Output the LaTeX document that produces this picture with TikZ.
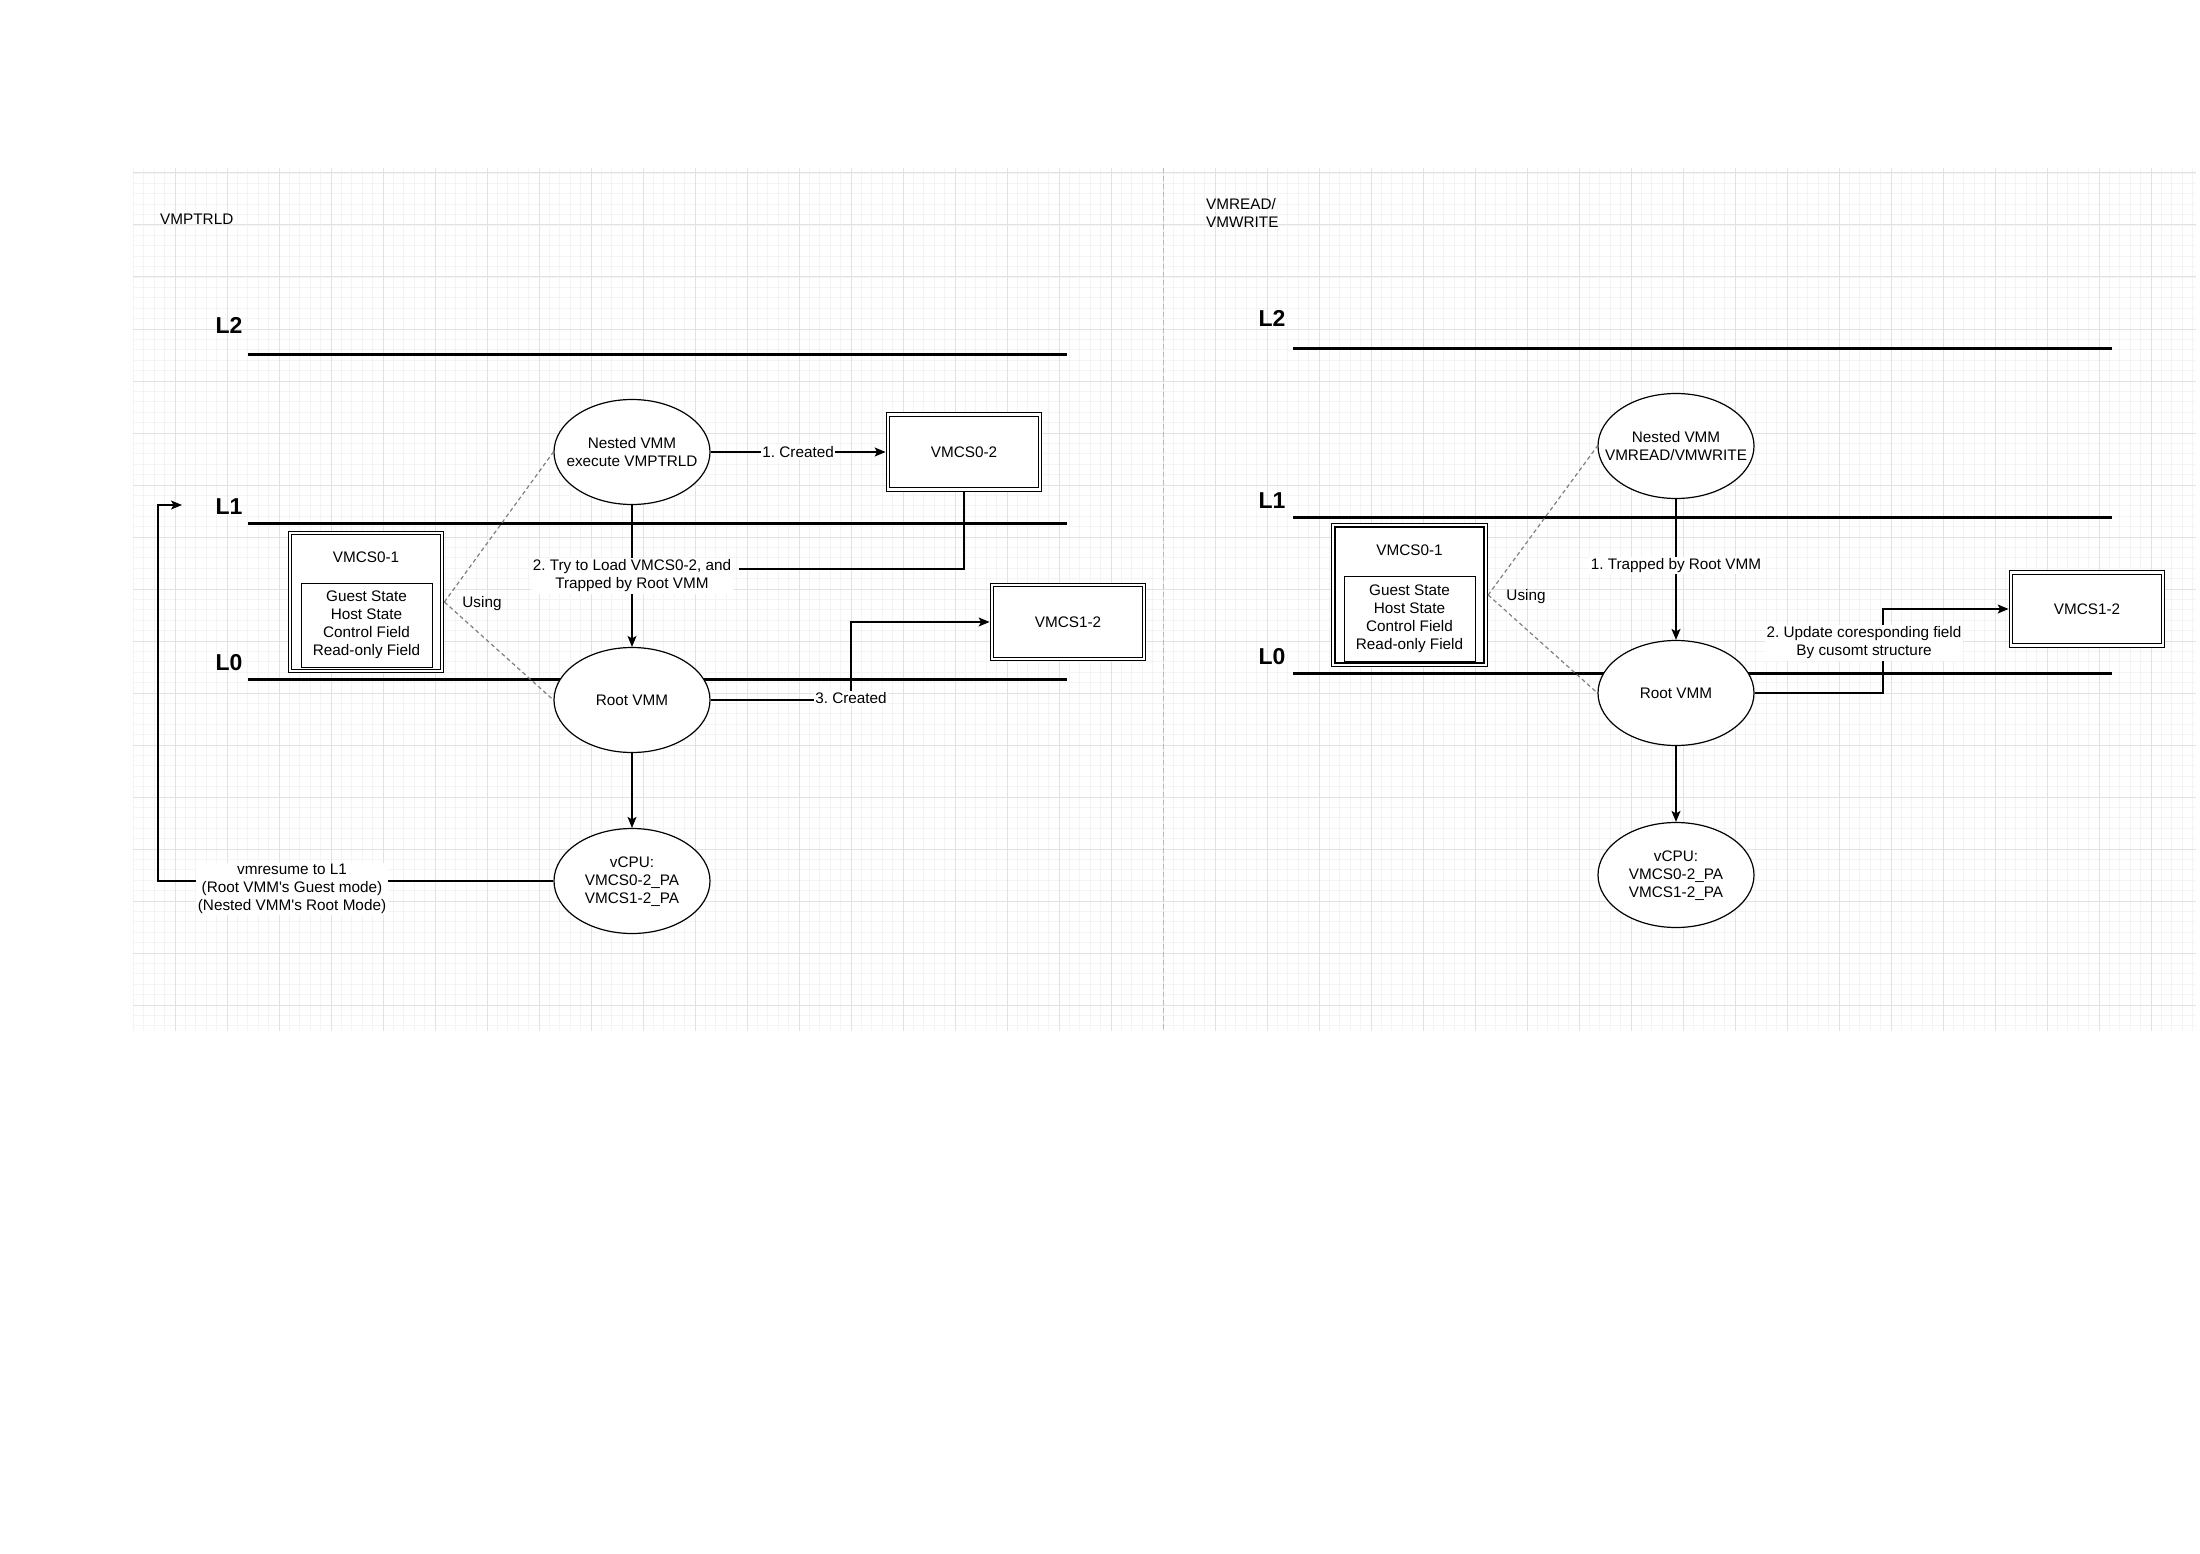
\documentclass[tikz,border=0pt]{standalone}
\usepackage{fontspec}
\setmainfont{Liberation Sans}[Ligatures=TeXOff]
\usetikzlibrary{arrows.meta,shapes.geometric}
\definecolor{gridminor}{gray}{0.955}
\definecolor{gridmajor}{gray}{0.885}
\definecolor{dividergray}{gray}{0.72}
\definecolor{dashgray}{gray}{0.5}
\frenchspacing
\begin{document}
\begin{tikzpicture}[x=1pt,y=-1pt,
  every node/.style={font=\fontsize{15.3}{18}\selectfont, align=center},
  conn/.style={line width=1.3pt},
  arr/.style={conn, -{Stealth[length=11pt,width=9pt,inset=2.5pt]}},
  level/.style={line width=3pt},
  levellabel/.style={font=\fontsize{23}{26}\selectfont\bfseries, inner sep=0pt},
  proc/.style={draw, ellipse, fill=white, line width=1.2pt, minimum width=156pt, minimum height=105pt, inner sep=0pt},
  vmcs/.style={draw, fill=white, double, double distance=2.4pt, line width=1.1pt, outer sep=2.4pt, inner sep=0pt},
  fields/.style={draw, fill=white, line width=0.9pt, inner sep=0pt},
  lbl/.style={fill=white, inner sep=1.5pt},
  uses/.style={draw=dashgray, line width=1.2pt, dash pattern=on 4pt off 3pt},
]
% page
\fill[white] (0,0) rectangle (2200,1554);
\useasboundingbox (0,0) rectangle (2200,1554);

% background grid
\foreach \i in {0,...,198}
  \draw[gridminor, line width=0.8pt] ({133.4+10.4*\i},168) -- ({133.4+10.4*\i},1031);
\foreach \j in {0,...,82}
  \draw[gridminor, line width=0.8pt] (133,{173+10.4*\j}) -- (2196,{173+10.4*\j});
\foreach \i in {0,...,38}
  \draw[gridmajor, line width=1pt] ({175+52*\i},168) -- ({175+52*\i},1031);
\foreach \j in {0,...,16}
  \draw[gridmajor, line width=1pt] (133,{173+52*\j}) -- (2196,{173+52*\j});
\draw[dividergray, line width=1pt, dash pattern=on 5pt off 3pt] (1163,168) -- (1163,1031);

% ---------------- VMPTRLD ----------------
\node[anchor=west, inner sep=0pt] (titleA) at (160,219) {VMPTRLD};

\draw[level] (248,354) -- (1067,354);
\draw[level] (248,523) -- (1067,523);
\draw[level] (248,679) -- (1067,679);
\node[levellabel] (l2A) at (229,325) {L2};
\node[levellabel] (l1A) at (229,507) {L1};
\node[levellabel] (l0A) at (229,663) {L0};

\node[proc] (nestA) at (632,452) {};
\node (nestAt) at (632,452) {Nested VMM\\execute VMPTRLD};
\node[proc] (rootA) at (632,700) {};
\node (rootAt) at (632,700) {Root VMM};
\node[proc] (vcpuA) at (632,881) {};
\node (vcpuAt) at (632,882) {vCPU:\\VMCS0-2\_PA\\VMCS1-2\_PA};

\node[vmcs, minimum width=152pt, minimum height=75pt] (vmcs02) at (964,452) {VMCS0-2};
\node[vmcs, minimum width=152pt, minimum height=74pt] (vmcs12A) at (1068,622) {VMCS1-2};
\node[vmcs, minimum width=152pt, minimum height=138pt] (vmcs01A) at (366,602) {};
\node (vmcs01At) at (366,557) {VMCS0-1};
\node[fields, minimum width=131pt, minimum height=84pt] (fieldsA) at (366.5,625)
  {Guest State\\Host State\\Control Field\\Read-only Field};

\draw[uses] (vmcs01A.east) -- (nestA.west);
\draw[uses] (vmcs01A.east) -- (rootA.west);
\node (usingA) at (482,604) {Using};

\draw[arr] (nestA.east) -- node[lbl] (t1A) {1. Created} (vmcs02.west);
\draw[arr] (nestA.south) -- node[lbl] (t2A) {2. Try to Load VMCS0-2, and\\Trapped by Root VMM} (rootA.north);
\coordinate (j2A) at (739,569);
\draw[conn] (vmcs02.south) |- (j2A);

\coordinate (c3A) at (851,700);
\draw[arr] (rootA.east) -- (c3A) |- (vmcs12A.west);
\node[lbl] (t3A) at (851,698) {3. Created};

\draw[arr] (rootA.south) -- (vcpuA.north);

\coordinate (r1) at (158,881);
\coordinate (r2) at (158,505);
\coordinate (r3) at (182,505);
\draw[arr] (vcpuA.west) -- (r1) -- (r2) -- (r3);
\node[lbl] (t4A) at (292,889) {vmresume to L1\\(Root VMM's Guest mode)\\(Nested VMM's Root Mode)};

% ---------------- VMREAD / VMWRITE ----------------
\node[anchor=west, align=left, inner sep=0pt] (titleB) at (1206,212.5) {VMREAD/\\VMWRITE};

\draw[level] (1293,348) -- (2112,348);
\draw[level] (1293,517) -- (2112,517);
\draw[level] (1293,673) -- (2112,673);
\node[levellabel] (l2B) at (1272,318) {L2};
\node[levellabel] (l1B) at (1272,501) {L1};
\node[levellabel] (l0B) at (1272,657) {L0};

\node[proc] (nestB) at (1676,446) {};
\node (nestBt) at (1676,446) {Nested VMM\\VMREAD/VMWRITE};
\node[proc] (rootB) at (1676,693) {};
\node (rootBt) at (1676,693) {Root VMM};
\node[proc] (vcpuB) at (1676,875) {};
\node (vcpuBt) at (1676,876) {vCPU:\\VMCS0-2\_PA\\VMCS1-2\_PA};

\node[vmcs, minimum width=152pt, minimum height=73pt] (vmcs12B) at (2087,609) {VMCS1-2};
\node[vmcs, minimum width=152.5pt, minimum height=139.5pt] (vmcs01B) at (1409.5,595) {};
\node (vmcs01Bt) at (1409.5,550) {VMCS0-1};
\node[fields, minimum width=131pt, minimum height=85pt] (fieldsB) at (1409.5,618.5)
  {Guest State\\Host State\\Control Field\\Read-only Field};

\draw[uses] (vmcs01B.east) -- (nestB.west);
\draw[uses] (vmcs01B.east) -- (rootB.west);
\node (usingB) at (1526,597) {Using};

\draw[arr] (nestB.south) -- node[lbl, pos=0.47] (t1B) {1. Trapped by Root VMM} (rootB.north);

\coordinate (c2B) at (1883,693);
\draw[arr] (rootB.east) -- (c2B) |- (vmcs12B.west);
\node[lbl] (t2B) at (1864,643) {2. Update coresponding field\\By cusomt structure};

\draw[arr] (rootB.south) -- (vcpuB.north);
\end{tikzpicture}
\end{document}
